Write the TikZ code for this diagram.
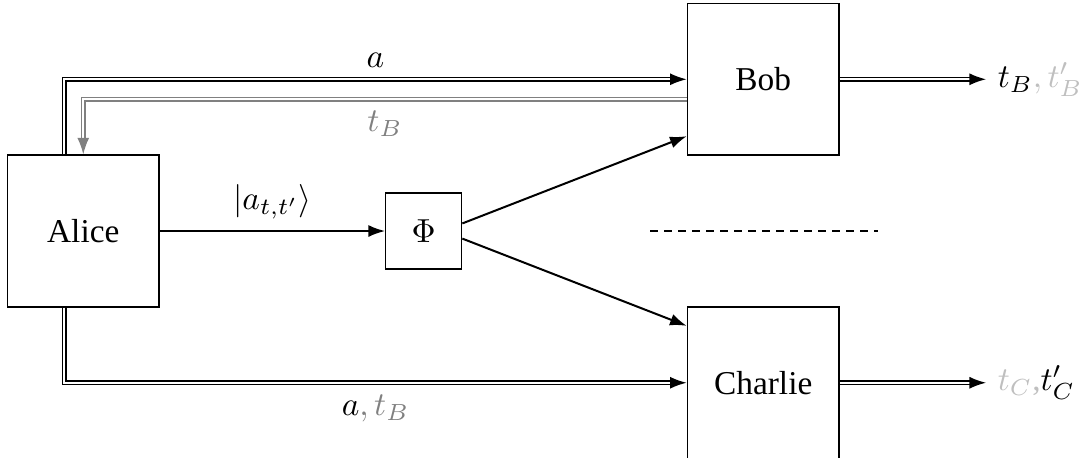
\documentclass[tikz,border=0pt]{standalone}
\usepackage[no-math]{fontspec}
\setmainfont{Liberation Serif}
\usetikzlibrary{arrows.meta}
\begin{document}
\begin{tikzpicture}[party/.style={rectangle,draw,minimum size=1.6cm},chan/.style={rectangle,draw,minimum size=0.8cm},classic/.style={line width=0.5pt,double distance=0.6pt,->},back/.style={classic,draw=gray},>={Latex[length=5pt,width=3.6pt]}]
\useasboundingbox (-0.878,-2.383) rectangle (10.51,2.436);
\node[party] (alice) at (0,0) {Alice};
\node[chan] (phi) at (3.59,0) {$\Phi$};
\node[party] (bob) at (7.17,1.6) {Bob};
\node[party] (charlie) at (7.17,-1.6) {Charlie};
\node[anchor=west] (bobout) at (9.52,1.6) {$t_B{\color{lightgray},t'_B}$};
\node[anchor=west] (charlieout) at (9.52,-1.6) {\textcolor{lightgray}{$t_C$,}$t'_C$};
\coordinate (dashl) at (5.98,0);
\coordinate (dashr) at (8.38,0);
\draw[semithick,->] (alice) -- (phi) node[midway,above] {$|a_{t,t'}\rangle$};
\draw[semithick,->] ([yshift=0.08cm]phi.east) -- ([yshift=-0.6cm]bob.west);
\draw[semithick,->] ([yshift=-0.08cm]phi.east) -- ([yshift=0.6cm]charlie.west);
\draw[classic] ([xshift=-0.2cm]alice.north) |- (bob.west) node[pos=0.75,above] {$a$};
\draw[back] ([yshift=-0.21cm]bob.west) -| (alice.north) node[pos=0.25,below,text=gray] {$t_B$};
\draw[classic] ([xshift=-0.2cm]alice.south) |- (charlie.west) node[pos=0.75,below] {$a{\color{gray},t_B}$};
\draw[classic] (bob) -- (bobout);
\draw[classic] (charlie) -- (charlieout);
\draw[dash pattern=on 2.2pt off 2pt] (dashl) -- (dashr);
\end{tikzpicture}
\end{document}
